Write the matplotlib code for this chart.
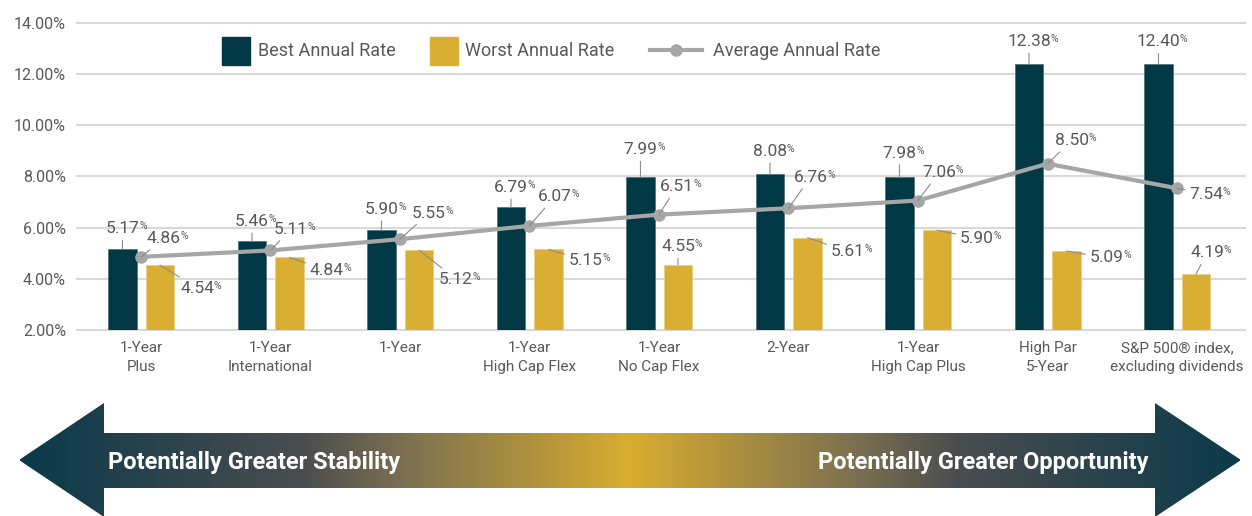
import numpy as np
import matplotlib
matplotlib.use("Agg")
import matplotlib.pyplot as plt
from matplotlib.patches import Rectangle, Polygon
from matplotlib.lines import Line2D
from matplotlib.text import Text
from matplotlib.colors import LinearSegmentedColormap

# data
categories = ["1-Year\nPlus", "1-Year\nInternational", "1-Year", "1-Year\nHigh Cap Flex",
              "1-Year\nNo Cap Flex", "2-Year", "1-Year\nHigh Cap Plus", "High Par\n5-Year",
              "S&P 500® index,\nexcluding dividends"]
best = [5.17, 5.46, 5.90, 6.79, 7.99, 8.08, 7.98, 12.38, 12.40]
worst = [4.54, 4.84, 5.12, 5.15, 4.55, 5.61, 5.90, 5.09, 4.19]
average = [4.86, 5.11, 5.55, 6.07, 6.51, 6.76, 7.06, 8.50, 7.54]
yticks = [2, 4, 6, 8, 10, 12, 14]

# label offsets in pixels (dx right, dy down)
best_off = [(0, -20), (0, -20), (0, -21), (0, -20), (0, -27), (0, -23), (0, -24), (0, -23), (0, -22)]
avg_off = [(23, -18), (20, -21), (29, -26), (25, -29), (18, -28), (22, -31), (21, -28), (24, -23), (29, 6)]
worst_off = [(37, 23), (37, 13), (37, 29), (37, 11), (0, -18), (40, 14), (40, 8), (40, 7), (11, -21)]

DARK = "#003845"
GOLD = "#d9ae32"
GREY_LINE = "#a6a6a6"
TXT = "#595959"
plt.rcParams["font.family"] = ["Roboto", "DejaVu Sans"]

W, H = 1252, 516
fig = plt.figure(figsize=(W / 100, H / 100), dpi=100)


def fx(x):
    return x / W


def fy(y):
    return 1 - y / H


ax = fig.add_axes([fx(77), fy(330), fx(1245) - fx(77), fy(23) - fy(330)])
x = np.arange(len(categories))
bw = 0.22
ax.bar(x - 0.143, best, bw, bottom=0, color=DARK, edgecolor="#4d6c75", linewidth=0.5, zorder=2)
ax.bar(x + 0.147, worst, bw, bottom=0, color=GOLD, edgecolor="#e8cf80", linewidth=0.5, zorder=2)
ax.plot(x, average, color=GREY_LINE, lw=3, marker="o", ms=8, zorder=3)

ax.set_xlim(-0.494, 8.525)
ax.set_ylim(2, 14)
ax.set_yticks(yticks)
ax.set_yticklabels([f"{v:.2f}%" for v in yticks], fontsize=11.5, color=TXT)
ax.set_xticks(x)
ax.set_xticklabels(categories, fontsize=11, color=TXT, linespacing=1.4)
ax.tick_params(length=0, pad=8)
for s in ax.spines.values():
    s.set_visible(False)
ax.yaxis.grid(True, color="#d9d9d9", lw=1.5, zorder=0)
ax.set_axisbelow(True)
for gl in ax.get_ygridlines():
    gl.set_clip_on(False)


def label(xv, yv, dx, dy):
    t = ax.annotate(f"{yv:.2f}", xy=(xv, yv), xytext=(dx, -dy), textcoords="offset pixels",
                    ha="center", va="center", fontsize=12.5, color=TXT, zorder=5,
                    arrowprops=dict(arrowstyle="-", color="#8c8c8c", lw=0.8, shrinkA=1, shrinkB=0))

    def ext(r, t=t):
        t.update_positions(r)
        return Text.get_window_extent(t, r)

    ax.annotate("%", xy=(0.99, 1.0), xycoords=ext, ha="left", va="top", fontsize=7.5, color=TXT, zorder=5)


for i in range(len(categories)):
    label(x[i] - 0.143, best[i], *best_off[i])
    label(x[i], average[i], *avg_off[i])
    label(x[i] + 0.147, worst[i], *worst_off[i])

# legend drawn by hand
fig.add_artist(Rectangle((fx(222), fy(65)), fx(28), fy(37) - fy(65), color=DARK, transform=fig.transFigure))
fig.text(fx(258), fy(51), "Best Annual Rate", fontsize=13, color=TXT, va="center")
fig.add_artist(Rectangle((fx(430), fy(65)), fx(28), fy(37) - fy(65), color=GOLD, transform=fig.transFigure))
fig.text(fx(465), fy(51), "Worst Annual Rate", fontsize=13, color=TXT, va="center")
fig.add_artist(Line2D([fx(650), fx(702)], [fy(50), fy(50)], color=GREY_LINE, lw=3,
                      transform=fig.transFigure))
fig.add_artist(Line2D([fx(676)], [fy(50)], color=GREY_LINE, marker="o", ms=8, transform=fig.transFigure))
fig.text(fx(713), fy(51), "Average Annual Rate", fontsize=13, color=TXT, va="center")

# gradient double arrow
ax2 = fig.add_axes([0, 0, 1, 1], zorder=-1)
ax2.set_xlim(0, W)
ax2.set_ylim(H, 0)
ax2.axis("off")
ax2.patch.set_alpha(0)
cmap = LinearSegmentedColormap.from_list("arr", [
    (0.0, "#0b3a4a"), (0.23, "#4a4d4f"), (0.315, "#7c7050"), (0.5, "#d9ad2f"),
    (0.685, "#7c7050"), (0.77, "#4a4d4f"), (1.0, "#0b3a4a")])
grad = np.linspace(0, 1, 600).reshape(1, -1)
im = ax2.imshow(grad, cmap=cmap, extent=(20, 1240, 520, 400), aspect="auto")
arrow = Polygon([(19, 460), (104, 403), (104, 433), (1155, 433), (1155, 403), (1241, 460),
                 (1155, 517), (1155, 488), (104, 488), (104, 517)], closed=True,
                facecolor="none", edgecolor="none", transform=ax2.transData)
ax2.add_patch(arrow)
im.set_clip_path(arrow)
ax2.text(108, 462, "Potentially Greater Stability", color="white", fontsize=17, fontweight="bold",
         ha="left", va="center")
ax2.text(1148, 462, "Potentially Greater Opportunity", color="white", fontsize=17, fontweight="bold",
         ha="right", va="center")

fig.savefig("out.png", dpi=100)
